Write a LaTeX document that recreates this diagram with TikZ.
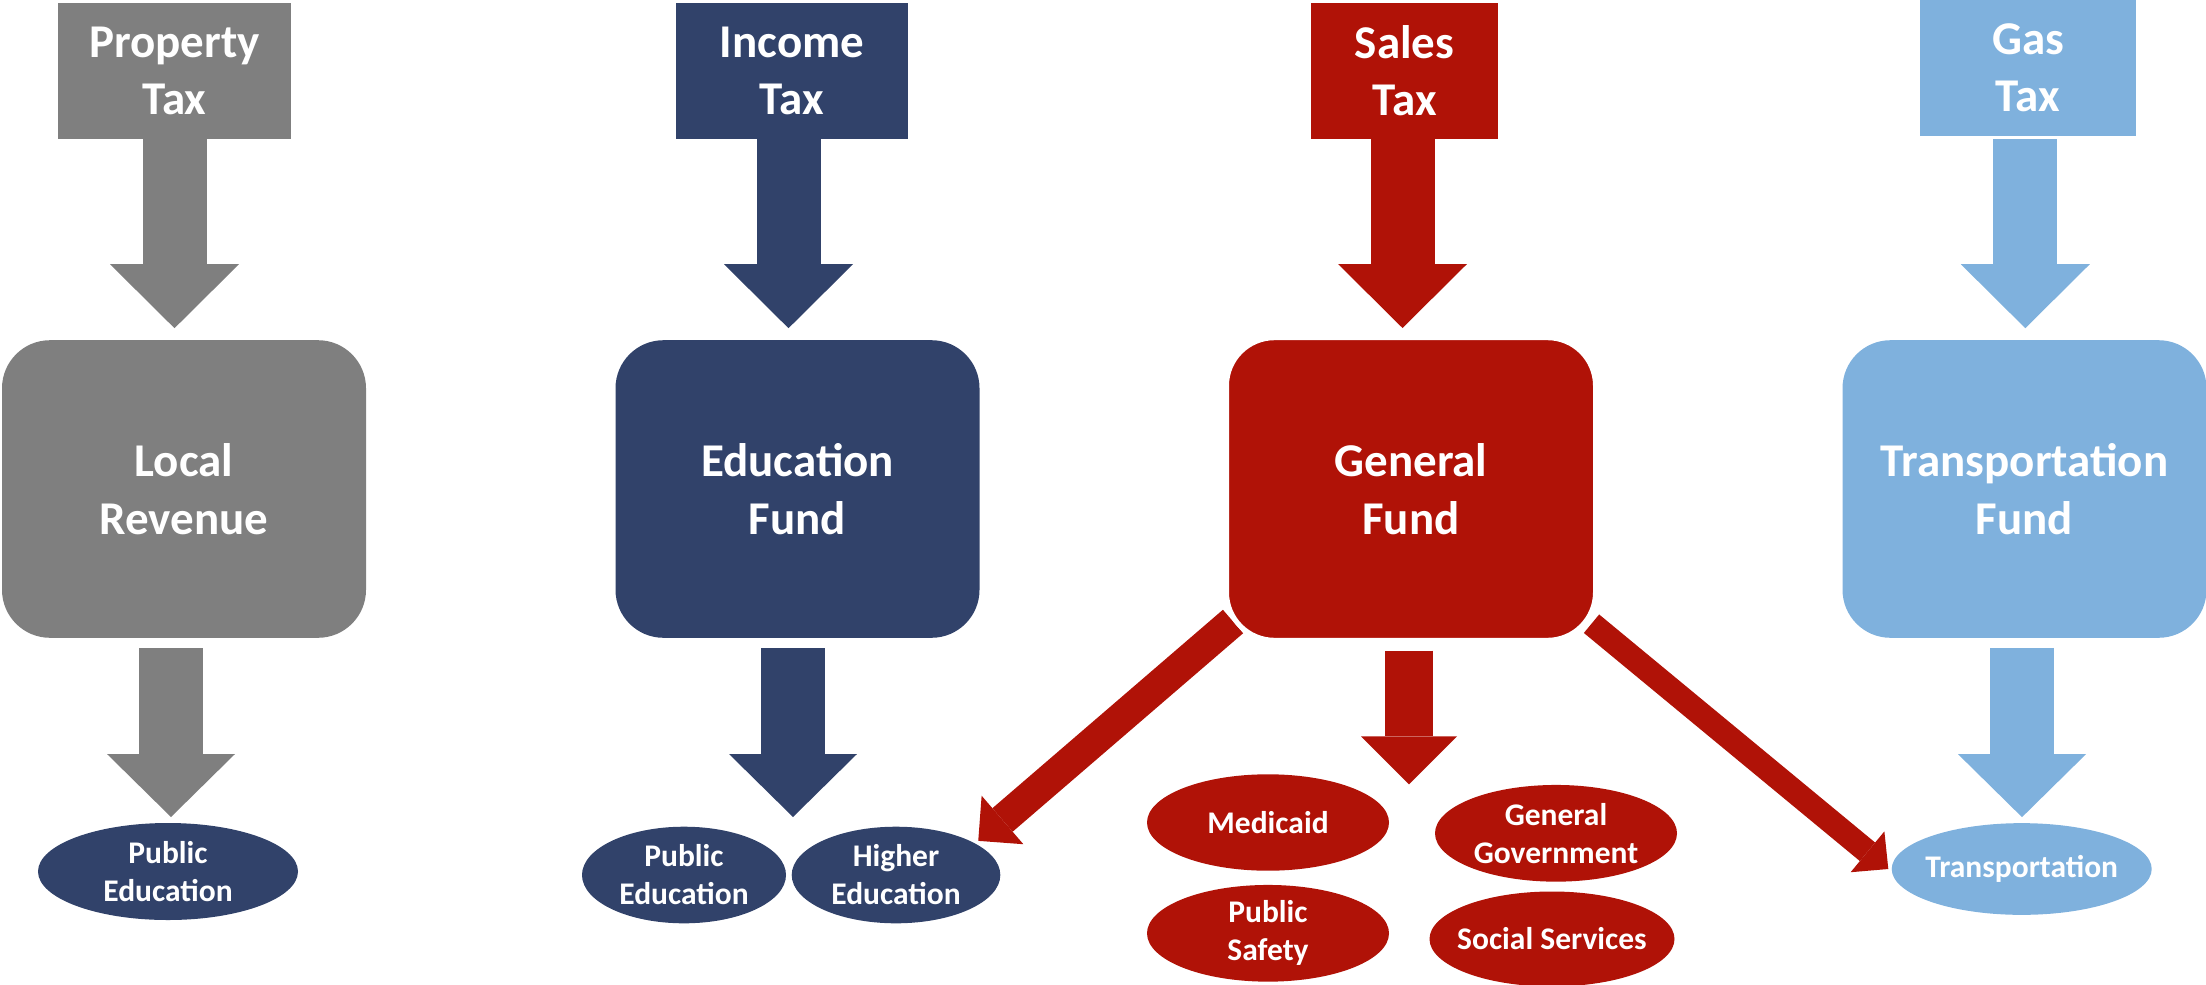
\documentclass[tikz,border=0pt]{standalone}
\usepackage{fontspec}
\setmainfont{Carlito}
\usetikzlibrary{arrows.meta,shapes.geometric,calc}
\pgfdeclarelayer{background}
\pgfsetlayers{background,main}
\definecolor{cgray}{HTML}{7F7F7F}
\definecolor{cnavy}{HTML}{31426A}
\definecolor{cred}{HTML}{B01207}
\definecolor{cblue}{HTML}{7FB1DD}
\begin{document}
\begin{tikzpicture}[x=1pt,y=-1pt,
  every node/.style={outer sep=0pt},
  taxbox/.style={rectangle, inner sep=0pt, text=white, align=center,
    font=\bfseries\fontsize{47}{57.4}\selectfont},
  fundbox/.style={rectangle, rounded corners=48pt, minimum width=364pt,
    minimum height=297.6pt, inner sep=0pt, text=white, align=center,
    font=\bfseries\fontsize{47}{57.4}\selectfont},
  usebox/.style={ellipse, inner sep=0pt},
  usetext/.style={text=white, align=center, inner sep=0pt,
    font=\bfseries\fontsize{31.5}{38}\selectfont},
  toparrow/.style={line width=64pt, -{Triangle[length=64pt,width=129pt,line width=0pt]}},
  botarrow/.style={line width=64pt, -{Triangle[length=63pt,width=128pt,line width=0pt]}},
  midarrow/.style={line width=48pt, -{Triangle[length=48pt,width=96pt,line width=0pt]}},
  leftdiag/.style={line width=31pt, -{Triangle[length=32pt,width=64pt,line width=0pt]}},
  rightdiag/.style={line width=24pt, -{Triangle[length=27pt,width=53pt,line width=0pt]}}
]
\useasboundingbox (0,0) rectangle (2206,985);

% tax boxes
\node[taxbox, fill=cgray, minimum width=233pt, minimum height=136pt] (pt) at (174.5,71) {Property\\Tax};
\node[taxbox, fill=cnavy, minimum width=232pt, minimum height=135.5pt] (it) at (792,70.75) {Income\\Tax};
\node[taxbox, fill=cred, minimum width=187pt, minimum height=135.5pt] (st) at (1404.5,70.75) {Sales\\Tax};
\node[taxbox, fill=cblue, minimum width=216pt, minimum height=136pt] (gt) at (2028,68) {Gas\\Tax};

% fund boxes
\node[fundbox, fill=cgray] (lr) at (184,489) {Local\\Revenue};
\node[fundbox, fill=cnavy] (ef) at (797.5,489) {Education\\Fund};
\node[fundbox, fill=cred, draw=white, line width=5pt, minimum width=369pt, minimum height=302.6pt] (gf) at (1411,489) {General\\Fund};
\node[fundbox, fill=cblue] (tf) at (2024.5,489) {Transportation\\Fund};

% uses
\node[usebox, fill=cnavy, minimum width=260pt, minimum height=97pt,
  label={[usetext]center:{Public\\Education}}] (pe1) at (168,871.5) {};
\node[usebox, fill=cnavy, minimum width=204pt, minimum height=96.6pt,
  label={[usetext]center:{Public\\Education}}] (pe2) at (684,875) {};
\node[usebox, fill=cnavy, minimum width=208.6pt, minimum height=96.6pt,
  label={[usetext]center:{Higher\\Education}}] (he) at (896,875) {};
\node[usebox, fill=cred, minimum width=242pt, minimum height=96.4pt,
  label={[usetext]center:{Medicaid}}] (md) at (1268,822.5) {};
\node[usebox, fill=cred, minimum width=242pt, minimum height=96.7pt,
  label={[usetext]center:{General\\Government}}] (gg) at (1556,833.3) {};
\node[usebox, fill=cred, minimum width=242pt, minimum height=96.7pt,
  label={[usetext]center:{Public\\Safety}}] (ps) at (1268,933.3) {};
\node[usebox, fill=cred, minimum width=245pt, minimum height=95pt,
  label={[usetext]center:{Social Services}}] (ss) at (1552,939) {};
\node[usebox, fill=cblue, minimum width=260pt, minimum height=91.7pt,
  label={[usetext]center:{Transportation}}] (te) at (2021.7,869) {};

% top arrows
\draw[toparrow, cgray, shorten >=12pt] (pt.south) -- (pt.south |- lr.north);
\coordinate (ita) at ([xshift=-3.5pt]it.south);
\draw[toparrow, cnavy, shorten >=12pt] (ita) -- (ita |- ef.north);
\coordinate (sta) at ([xshift=-2pt]st.south);
\draw[toparrow, cred, shorten >=9.7pt] (sta) -- (sta |- gf.north);
\coordinate (gta) at ([xshift=-2.7pt]gt.south);
\draw[toparrow, cblue, shorten <=3pt, shorten >=12pt] (gta) -- (gta |- tf.north);

% bottom arrows
\coordinate (lrb) at ([xshift=-13pt]lr.south);
\draw[botarrow, cgray, shorten <=10.4pt, shorten >=6pt] (lrb) -- (lrb |- pe1.north);
\coordinate (efb) at ([xshift=-4.5pt]ef.south);
\draw[botarrow, cnavy, shorten <=10.4pt, shorten >=9.7pt] (efb) -- (efb |- he.north);
\coordinate (gfb) at ([xshift=-2pt]gf.south);
\coordinate (gftip) at (1409,784.3);
\draw[midarrow, cred, shorten <=10.4pt] (gfb) -- (gftip);
\coordinate (tfb) at ([xshift=-2.5pt]tf.south);
\draw[botarrow, cblue, shorten <=10pt, shorten >=6pt] (tfb) -- (tfb |- te.north);

% diagonal arrows from the general fund, behind its box
\begin{pgfonlayer}{background}
\draw[leftdiag, cred] ([shift={(6.5,-18.8)}]gf.south west) -- ([xshift=8.5pt]he.north east);
\draw[rightdiag, cred] ([shift={(-4,-16.6)}]gf.south east) -- ([xshift=-3.4pt]te.west);
\end{pgfonlayer}
\end{tikzpicture}
\end{document}
